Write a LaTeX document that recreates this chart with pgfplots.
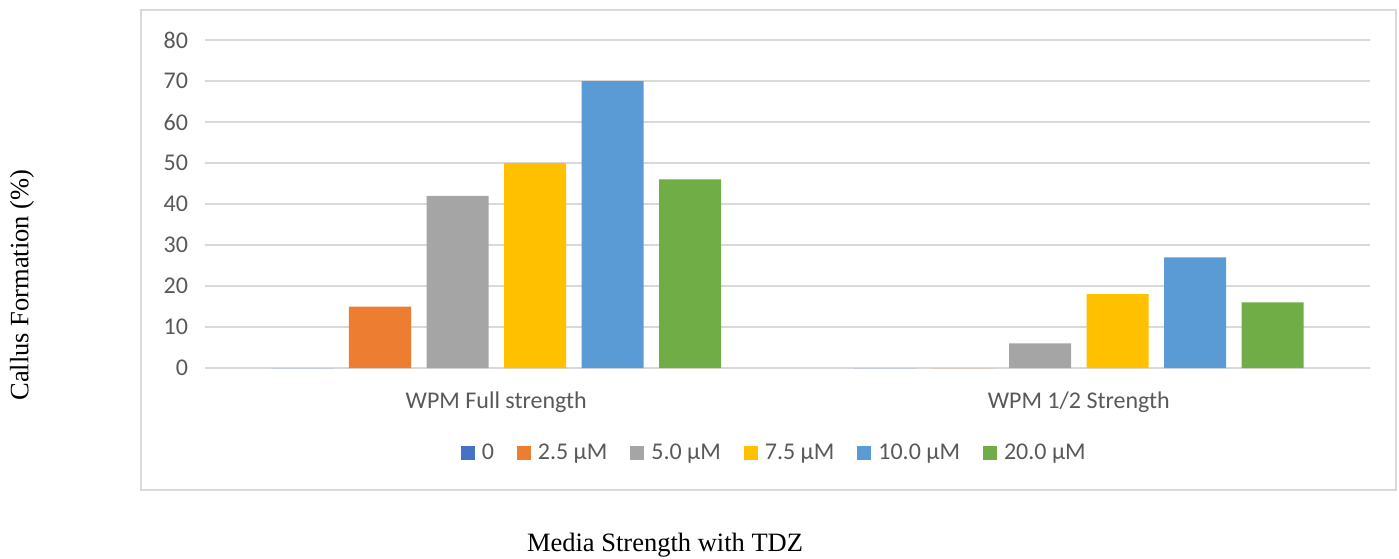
\documentclass[border=0pt]{standalone}
\usepackage{pgfplots}
\pgfplotsset{compat=1.18}
\usepackage{fontspec}
\setmainfont{Liberation Serif}
\newfontfamily\calibri{Carlito}
\definecolor{c0}{HTML}{4472C4}
\definecolor{c1}{HTML}{ED7D31}
\definecolor{c2}{HTML}{A5A5A5}
\definecolor{c3}{HTML}{FFC000}
\definecolor{c4}{HTML}{5B9BD5}
\definecolor{c5}{HTML}{70AD47}
\definecolor{gridc}{HTML}{D9D9D9}
\definecolor{txtc}{HTML}{595959}
\begin{document}
\begin{tikzpicture}
\useasboundingbox (-102.5bp,-95.5bp) rectangle (597bp,184bp);
\draw[gridc, line width=0.8bp] (-32bp,-61bp) rectangle (595.5bp,179bp);
\begin{axis}[
  at={(0,0)}, anchor=south west,
  scale only axis, width=582.5bp, height=164bp,
  xmin=-0.5, xmax=1.5, ymin=0, ymax=80,
  ybar, bar width=31bp,
  axis line style={draw=none},
  major tick length=0pt,
  ymajorgrids, grid style={gridc, line width=1bp},
  xtick={0,1}, xticklabels={WPM Full strength, WPM 1/2 Strength},
  ytick={0,10,...,80},
  /pgf/number format/assume math mode=true,
  tick label style={font=\calibri\fontsize{12bp}{14bp}\selectfont, text=txtc},
  yticklabel style={xshift=-5bp},
  xticklabel style={yshift=-8.5bp},
  legend style={at={(0.4895,-0.259)}, anchor=center, draw=none, fill=none,
    legend columns=6, font=\calibri\fontsize{12bp}{14bp}\selectfont, text=txtc,
    /tikz/every even column/.append style={column sep=9.5bp},
    /tikz/every odd column/.append style={column sep=1.5bp},
    legend cell align=left},
  legend image code/.code={\fill[#1] (0bp,-3.5bp) rectangle (7bp,3.5bp);},
]
\addplot[fill=c0, draw=none, bar shift=-96.875bp] coordinates {(0,0) (1,0)};
\addplot[fill=c1, draw=none, bar shift=-58.125bp] coordinates {(0,15) (1,0)};
\addplot[fill=c2, draw=none, bar shift=-19.375bp] coordinates {(0,42) (1,6)};
\addplot[fill=c3, draw=none, bar shift=19.375bp] coordinates {(0,50) (1,18)};
\addplot[fill=c4, draw=none, bar shift=58.125bp] coordinates {(0,70) (1,27)};
\addplot[fill=c5, draw=none, bar shift=96.875bp] coordinates {(0,46) (1,16)};
\legend{0, 2.5 μM, 5.0 μM, 7.5 μM, 10.0 μM, 20.0 μM}
\end{axis}
\node[rotate=90, font=\fontsize{13.25bp}{15bp}\selectfont] at (-91.5bp,41.5bp) {Callus Formation (\%)};
\node[font=\fontsize{13.25bp}{15bp}\selectfont] at (230bp,-88.5bp) {Media Strength with TDZ};
\end{tikzpicture}
\end{document}
